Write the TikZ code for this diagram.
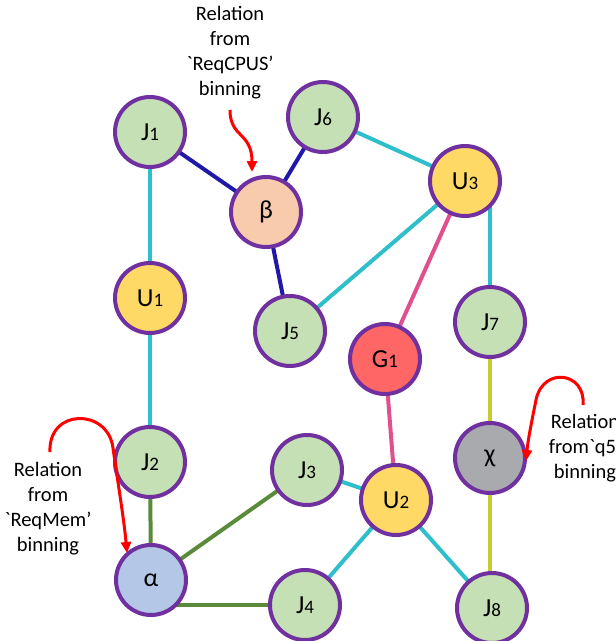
\documentclass[tikz,border=0pt]{standalone}
\usepackage{fontspec}
\setmainfont{Carlito}
\newfontfamily\rawcarlito{Carlito}[Ligatures=TeXOff]
\usetikzlibrary{arrows.meta}
\pgfdeclarelayer{background}
\pgfsetlayers{background,main}
\definecolor{fgreen}{HTML}{C5E0B4}
\definecolor{fyellow}{HTML}{FFD966}
\definecolor{fpeach}{HTML}{F8CBAD}
\definecolor{fred}{HTML}{FF6666}
\definecolor{fblue}{HTML}{B4C7E7}
\definecolor{fgray}{HTML}{A9AAAE}
\definecolor{bpurple}{HTML}{7030A0}
\definecolor{enavy}{RGB}{32,24,168}
\definecolor{ecyan}{HTML}{2EBFCB}
\definecolor{epink}{RGB}{224,80,140}
\definecolor{eyg}{HTML}{C8CC30}
\definecolor{egreen}{HTML}{5A8A3A}
\newcommand{\sbs}[1]{{\fontsize{19}{19}\selectfont #1}}
\newcommand{\grv}{{\rawcarlito\symbol{96}}}
\tikzset{
  vtx/.style={circle, draw=bpurple, line width=4pt, minimum size=70pt, inner sep=0pt,
     font=\fontsize{26}{26}\selectfont, text=black},
  jn/.style={vtx, fill=fgreen},
  un/.style={vtx, fill=fyellow},
  nv/.style={line width=4pt, draw=enavy},
  cy/.style={line width=4pt, draw=ecyan},
  pk/.style={line width=4pt, draw=epink},
  yg/.style={line width=4pt, draw=eyg},
  gr/.style={line width=4pt, draw=egreen},
  redarrow/.style={line width=3pt, draw=red, -{Triangle[length=11pt,width=10pt]}},
  lbl/.style={align=center, font=\fontsize{20.5}{25}\selectfont, text=black}
}
\begin{document}
\begin{tikzpicture}[x=1pt,y=-1pt]
\useasboundingbox (0,0) rectangle (616,641);
\node[jn] (j1) at (150,132) {J\sbs{1}};
\node[jn] (j6) at (323,117) {J\sbs{6}};
\node[vtx, fill=fpeach] (b) at (266,212) {β};
\node[un] (u3) at (465,181) {U\sbs{3}};
\node[un] (u1) at (150,298) {U\sbs{1}};
\node[jn] (j5) at (290,331) {J\sbs{5}};
\node[jn] (j7) at (490,322) {J\sbs{7}};
\node[vtx, fill=fred] (g1) at (385,359) {G\sbs{1}};
\node[jn] (j2) at (150,462) {J\sbs{2}};
\node[jn] (j3) at (307,470) {J\sbs{3}};
\node[vtx, fill=fgray] (x) at (490,458) {χ};
\node[un] (u2) at (396,500) {U\sbs{2}};
\node[vtx, fill=fblue] (a) at (151,580) {α};
\node[jn] (j4) at (305,605) {J\sbs{4}};
\node[jn] (j8) at (492,608) {J\sbs{8}};

\begin{pgfonlayer}{background}
\draw[nv] (j1.center) -- (b.center);
\draw[nv] (j6.center) -- (b.center);
\draw[nv] (b.center) -- (j5.center);
\draw[cy] (j1.center) -- (u1.center);
\draw[cy] (u1.center) -- (j2.center);
\draw[cy] (j6.center) -- (u3.center);
\draw[cy] (u3.center) -- (j5.center);
\draw[cy] (j7.center) -- (j7.center |- u3.center);
\draw[pk] (u3.center) -- (g1.center);
\draw[pk] (g1.center) -- (u2.center);
\draw[yg] (j7.center) -- (x.center);
\draw[yg] (x.center) -- (x.center |- j8.center);
\draw[cy] (j3.center) -- (u2.center);
\draw[cy] (u2.center) -- (j4.center);
\draw[cy] (u2.center) -- (j8.center);
\draw[gr] (j2.center) -- (a.center);
\draw[gr] (a.center) -- (j3.center);
\draw[gr] (j4.center) -- (j4.center -| a.center);
\end{pgfonlayer}

\node[lbl] (t1) at (230,53) {Relation\\from\\\grv ReqCPUS’\\binning};
\node[lbl] (t2) at (48,509) {Relation\\from\\\grv ReqMem’\\binning};
\node[lbl] (t3) at (585,448) {Relation\\from\grv q5’\\binning};

\coordinate (s1) at (230,110);
\coordinate (s2) at (50,452);
\coordinate (s3) at (583,405);
\coordinate (e1) at (252,172);
\coordinate (e2) at (127,553);
\coordinate (e3) at (526,461);
\draw[redarrow] (s1) .. controls (230,138) and (252,132) .. (e1);
\draw[redarrow] (s2) .. controls (48,408) and (108,408) .. (113,448) .. controls (119,490) and (124,520) .. (e2);
\draw[redarrow] (s3) .. controls (586,372) and (543,366) .. (536,400) .. controls (531,425) and (528,440) .. (e3);
\end{tikzpicture}
\end{document}
